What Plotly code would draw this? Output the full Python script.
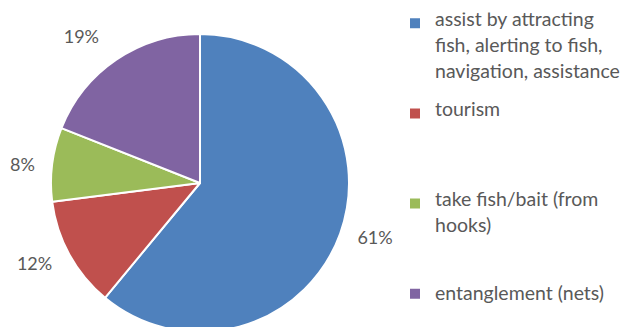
import plotly.graph_objects as go

categories = [
    "assist by attracting<br>fish, alerting to fish,<br>navigation, assistance",
    "tourism",
    "take fish/bait (from<br>hooks)",
    "entanglement (nets)",
]
values = [61, 12, 8, 19]
colors = ["#4F81BD", "#C0504D", "#9BBB59", "#8064A2"]

NB = "\u00a0"
BASE = 6.7          # legend base font size -> line step of 1.3*BASE px
TEXT_SIZE = 19.5    # visible legend text size
STEP = 3            # base lines per visible line
ITEM_LINES = 10     # base lines per legend entry


def legend_text(label, pad):
    vis = [f'<span style="font-size:{TEXT_SIZE}px">{t}</span>' for t in label.split("<br>")]
    lines = []
    for i, t in enumerate(vis):
        lines.append(t)
        if i < len(vis) - 1:
            lines += [NB] * (STEP - 1)
    if pad:
        while len(lines) < ITEM_LINES:
            lines.append(NB)
    return "<br>".join(lines)


legend_labels = [legend_text(c, i < len(categories) - 1) for i, c in enumerate(categories)]

W, H = 629, 332

fig = go.Figure(
    go.Pie(
        labels=legend_labels,
        values=values,
        sort=False,
        direction="clockwise",
        rotation=0,
        marker=dict(colors=colors, line=dict(color="white", width=2)),
        textposition="outside",
        texttemplate=NB + "<br>%{percent:.0%}<br>" + NB,
        textfont=dict(family="Lato", size=18, color="#595959"),
        domain=dict(x=[0, 400 / W], y=[0, 298 / H]),
        hoverinfo="none",
    )
)

fig.update_layout(
    width=W,
    height=H,
    margin=dict(l=0, r=0, t=0, b=0, autoexpand=False),
    paper_bgcolor="white",
    plot_bgcolor="white",
    showlegend=True,
    legend=dict(
        x=395 / W,
        xanchor="left",
        y=1 - 12.5 / H,
        yanchor="top",
        valign="top",
        font=dict(family="Lato", size=BASE, color="#595959"),
        bgcolor="rgba(0,0,0,0)",
    ),
)

fig.write_html(
    "out.html",
    post_script="document.documentElement.style.overflow='hidden';document.body.style.overflow='hidden';document.body.style.margin='0';",
)
